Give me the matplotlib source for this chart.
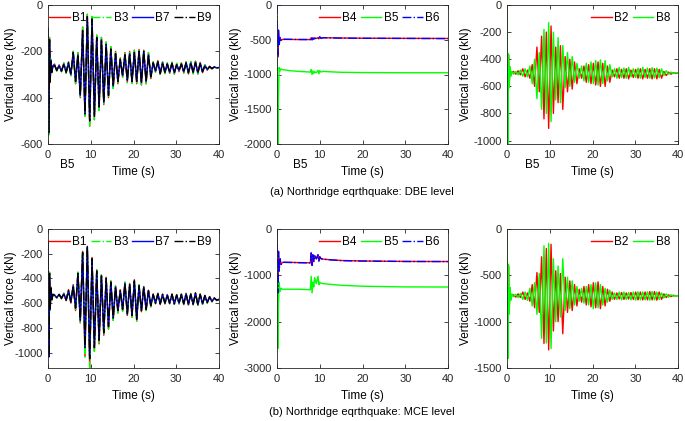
import numpy as np
import matplotlib
matplotlib.use("Agg")
import matplotlib.pyplot as plt

plt.rcParams['font.family'] = ['Liberation Sans', 'DejaVu Sans']
plt.rcParams['axes.unicode_minus'] = False

# time axis: start-up transient, then one point per half cycle, then the end
t_start = [0, 0.2, 0.35, 0.5, 0.7, 0.9, 1.15]
t_osc = list(np.round(np.arange(1.5, 39.5, 0.55), 2))
t = t_start + t_osc + [40.0]

# ---- (a) DBE level ----
# corner columns (B1, B3, B7, B9)
b9_dbe = ([-100, -550, -150, -330, -240, -290, -265] +
          [-258, -282, -262, -285, -255, -290, -250, -300, -205, -330,
           -215, -390, -110, -470, -50, -500, -60, -480, -140, -440,
           -150, -420, -170, -390, -190, -350, -210, -330, -235, -305,
           -215, -325, -210, -330, -205, -330, -200, -335, -200, -330,
           -215, -310, -250, -285, -245, -295, -250, -290, -255, -290,
           -252, -292, -258, -282, -255, -288, -250, -292, -250, -290,
           -248, -292, -252, -288, -262, -278, -266, -274, -268, -271] + [-270])
b3_dbe = ([-100, -560, -140, -335, -235, -292, -262] +
          [-255, -285, -258, -288, -250, -295, -245, -305, -200, -340,
           -205, -400, -95, -480, -40, -523, -50, -495, -130, -455,
           -140, -430, -160, -400, -180, -360, -200, -340, -228, -312,
           -205, -335, -200, -338, -195, -340, -192, -345, -195, -340,
           -205, -318, -245, -290, -240, -300, -245, -296, -250, -295,
           -247, -298, -252, -288, -250, -294, -245, -298, -244, -297,
           -242, -298, -248, -292, -258, -282, -264, -276, -267, -272] + [-270])
b1_dbe = list(b3_dbe)   # red trace sits inside the green one
b7_dbe = list(b9_dbe)   # blue trace sits under the black one

# middle columns (B4, B5, B6)
t_mid = [0, 0.2, 0.35, 0.5, 0.7, 0.95, 1.3, 3, 5, 7.8, 8.0, 8.2, 8.4,
         8.6, 8.8, 9.2, 9.6, 9.8, 10.0, 10.3, 10.8, 12, 15, 20, 30, 40]
b4_dbe = [-250, -750, -380, -560, -470, -505, -495, -495, -497, -497, -470, -500, -475,
          -490, -478, -482, -470, -488, -460, -478, -470, -472, -475, -478, -480, -482]
b6_dbe = [0, -720, -360, -570, -465, -508, -493, -494, -496, -498, -468, -502, -473,
          -492, -476, -484, -468, -490, -458, -480, -471, -473, -476, -479, -481, -483]
b5_dbe = [-300, -2000, -1300, -900, -950, -920, -930, -945, -955, -965, -930, -1000, -950,
          -985, -960, -975, -940, -990, -945, -965, -955, -960, -968, -972, -975, -975]

# side columns (B2, B8)
b2_dbe = ([0, -1000, -370, -600, -460, -520, -495] +
          [-490, -510, -485, -515, -470, -530, -480, -540, -440, -600,
           -310, -640, -230, -840, -200, -910, -155, -800, -310, -720,
           -300, -770, -380, -640, -400, -620, -420, -580, -470, -540,
           -450, -570, -440, -580, -430, -590, -420, -600, -430, -600,
           -450, -570, -480, -530, -470, -540, -475, -540, -470, -545,
           -480, -535, -475, -540, -470, -545, -475, -540, -470, -545,
           -470, -545, -475, -540, -490, -520, -495, -510, -500, -505] + [-502])
b8_dbe = ([0, -1023, -360, -610, -455, -525, -490] +
          [-510, -490, -515, -480, -525, -470, -530, -450, -580, -400,
           -690, -350, -770, -180, -800, -130, -860, -200, -700, -240,
           -720, -300, -610, -350, -600, -380, -570, -430, -540, -450,
           -560, -430, -570, -420, -580, -410, -590, -405, -580, -410,
           -560, -440, -530, -470, -540, -460, -535, -465, -540, -460,
           -530, -470, -535, -465, -540, -460, -535, -465, -540, -462,
           -538, -465, -535, -470, -520, -485, -510, -495, -505, -500] + [-502])

# ---- (b) MCE level ----
b9_mce = ([-100, -1035, -360, -650, -480, -570, -530] +
          [-535, -555, -530, -560, -525, -575, -500, -590, -460, -640,
           -360, -740, -190, -960, -140, -1050, -240, -960, -340, -900,
           -380, -840, -400, -790, -430, -720, -470, -660, -500, -650,
           -440, -690, -450, -700, -420, -730, -460, -660, -470, -650,
           -500, -620, -530, -600, -525, -605, -530, -600, -535, -600,
           -530, -605, -535, -600, -530, -605, -525, -610, -528, -608,
           -520, -612, -530, -605, -540, -595, -550, -585, -560, -575] + [-570])
b3_mce = ([-100, -1030, -350, -660, -470, -575, -528] +
          [-532, -558, -528, -565, -520, -580, -490, -600, -450, -660,
           -350, -760, -180, -1035, -150, -1124, -230, -990, -330, -930,
           -370, -860, -390, -810, -420, -740, -460, -680, -490, -665,
           -430, -700, -440, -715, -410, -745, -450, -670, -465, -660,
           -495, -630, -525, -605, -520, -612, -526, -606, -530, -606,
           -526, -610, -530, -606, -525, -612, -520, -615, -522, -614,
           -515, -618, -525, -610, -536, -600, -546, -590, -556, -580] + [-570])
b1_mce = list(b3_mce)
b7_mce = list(b9_mce)

b4_mce = [-200, -1390, -500, -900, -650, -760, -720, -720, -725, -730, -520, -780, -560,
          -700, -580, -640, -560, -690, -600, -640, -650, -660, -680, -690, -700, -702]
b6_mce = [0, -1380, -480, -910, -640, -765, -718, -722, -726, -732, -515, -785, -555,
          -705, -575, -645, -555, -695, -598, -642, -652, -662, -682, -692, -701, -703]
b5_mce = [-300, -2580, -1600, -1150, -1350, -1280, -1300, -1300, -1300, -1310, -1020, -1380, -1150,
          -1250, -1050, -1180, -1020, -1200, -1150, -1170, -1180, -1190, -1215, -1235, -1250, -1252]

b2_mce = ([0, -1380, -400, -900, -640, -760, -710] +
          [-710, -735, -700, -740, -680, -760, -690, -780, -600, -850,
           -470, -900, -300, -1235, -210, -1305, -165, -1100, -450, -1000,
           -480, -1130, -520, -900, -560, -880, -600, -830, -650, -790,
           -620, -820, -600, -840, -580, -850, -570, -860, -620, -830,
           -650, -780, -680, -760, -690, -755, -685, -760, -690, -755,
           -685, -760, -680, -765, -680, -765, -680, -765, -675, -765,
           -675, -768, -680, -760, -700, -740, -710, -730, -715, -722] + [-720])
b8_mce = ([0, -1400, -380, -920, -630, -770, -700] +
          [-730, -705, -740, -695, -760, -680, -770, -640, -830, -580,
           -920, -480, -1180, -180, -1230, -155, -1290, -320, -1000, -400,
           -950, -320, -880, -520, -860, -560, -820, -620, -780, -640,
           -800, -620, -820, -600, -860, -580, -850, -600, -820, -640,
           -790, -660, -760, -690, -760, -680, -765, -680, -760, -685,
           -765, -680, -768, -678, -765, -680, -765, -678, -768, -675,
           -765, -680, -760, -690, -745, -700, -735, -710, -725, -718] + [-720])

RED, GREEN, BLUE, BLACK = '#ff0000', '#00ff00', '#0000ff', '#000000'
FS = 8
LW = 1.0
W, H = 685, 421


def make_ax(x0, y0):
    # axes from pixel corner (left, top), 171 x 139 px
    return fig.add_axes([x0 / W, 1 - (y0 + 139) / H, 171 / W, 139 / H])


def style(ax, ylim, yticks, labx):
    ax.set_xlim(0, 40)
    ax.set_ylim(*ylim)
    ax.set_xticks([0, 10, 20, 30, 40])
    ax.set_yticks(yticks)
    ax.tick_params(direction='in', top=True, right=True, labelsize=FS,
                   length=3, width=0.6, pad=4, colors='#262626')
    for s in ax.spines.values():
        s.set_linewidth(0.6)
        s.set_color('#262626')
    ax.set_xlabel('Time (s)', fontsize=FS + 0.5)
    ax.set_ylabel('Vertical force (kN)', fontsize=FS + 0.5)
    ax.xaxis.set_label_coords(0.5, -0.16)
    ax.yaxis.set_label_coords(labx, 0.5)


def legend(ax, loc, anchor, ncol):
    ax.legend(loc=loc, bbox_to_anchor=anchor, ncol=ncol, frameon=False,
              fontsize=FS + 0.5, handlelength=1.75, handletextpad=0.2,
              columnspacing=0.35, borderpad=0, borderaxespad=0)


fig = plt.figure(figsize=(6.85, 4.21), dpi=100)

rows = [
    (5, b1_dbe, b3_dbe, b7_dbe, b9_dbe, b4_dbe, b5_dbe, b6_dbe, b2_dbe, b8_dbe,
     (-600, 0), [-600, -400, -200, 0], (-2000, 0), [-2000, -1500, -1000, -500, 0],
     (-1025, 0), [-1000, -800, -600, -400, -200, 0]),
    (229, b1_mce, b3_mce, b7_mce, b9_mce, b4_mce, b5_mce, b6_mce, b2_mce, b8_mce,
     (-1125, 0), [-1000, -800, -600, -400, -200, 0], (-3000, 0), [-3000, -2000, -1000, 0],
     (-1500, 0), [-1500, -1000, -500, 0]),
]

for (top, b1, b3, b7, b9, b4, b5, b6, b2, b8,
     yl1, yt1, yl2, yt2, yl3, yt3) in rows:
    ax1 = make_ax(48, top)
    ax1.plot(t, b1, color=RED, lw=LW, label='B1')
    ax1.plot(t, b3, color=GREEN, lw=LW, ls='-.', label='B3')
    ax1.plot(t, b7, color=BLUE, lw=LW, label='B7')
    ax1.plot(t, b9, color=BLACK, lw=LW, ls='-.', label='B9')
    style(ax1, yl1, yt1, -0.182)
    legend(ax1, 'upper left', (0.006, 0.95), 4)

    ax2 = make_ax(277, top)
    ax2.plot(t_mid, b4, color=RED, lw=LW, label='B4')
    ax2.plot(t_mid, b5, color=GREEN, lw=LW, label='B5')
    ax2.plot(t_mid, b6, color=BLUE, lw=LW, ls='-.', label='B6')
    style(ax2, yl2, yt2, -0.205)
    legend(ax2, 'upper right', (0.953, 0.95), 3)

    ax3 = make_ax(507, top)
    ax3.plot(t, b2, color=RED, lw=LW, label='B2')
    ax3.plot(t, b8, color=GREEN, lw=LW, label='B8')
    style(ax3, yl3, yt3, -0.205)
    legend(ax3, 'upper right', (0.953, 0.95), 2)

# stray "B5" labels under the top row
for xp in [67, 300, 532]:
    fig.text(xp / W, 1 - 165.5 / H, 'B5', fontsize=FS + 0.5, ha='center', va='center')

fig.text(362 / W, 1 - 192 / H, '(a) Northridge eqrthquake: DBE level',
         fontsize=FS, ha='center', va='center')
fig.text(362 / W, 1 - 412 / H, '(b) Northridge eqrthquake: MCE level',
         fontsize=FS, ha='center', va='center')

fig.savefig('out.png', dpi=100)
